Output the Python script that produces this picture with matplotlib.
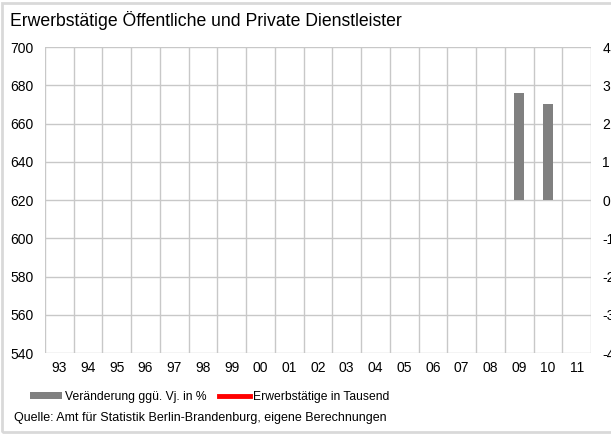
import numpy as np
import matplotlib.pyplot as plt
from matplotlib.patches import Patch, Rectangle
from matplotlib.lines import Line2D

plt.rcParams['font.family'] = ['Liberation Sans', 'DejaVu Sans']
plt.rcParams['axes.unicode_minus'] = False

# data (years 1993-2011)
years = ['93', '94', '95', '96', '97', '98', '99', '00', '01', '02',
         '03', '04', '05', '06', '07', '08', '09', '10', '11']
# change vs previous year in %, only 09 and 10 are shown
change_pct = [np.nan] * 16 + [2.8, 2.5, np.nan]
# employed persons in thousand, no values drawn in the chart
employed = [np.nan] * 19

fig = plt.figure(figsize=(6.11, 4.34), dpi=100)
ax = fig.add_axes([0.0736, 0.1866, 0.8937, 0.7051])
ax2 = ax.twinx()

x = np.arange(len(years))
ax.plot(x, employed, color='#ff0000', linewidth=3)
ax2.bar(x, change_pct, width=0.37, bottom=0, color='#808080')

ax.set_ylim(540, 700)
ax.set_yticks(np.arange(540, 701, 20))
ax2.set_ylim(-4, 4)
ax2.set_yticks(np.arange(-4, 5, 1))
ax.set_xlim(-0.5, len(years) - 0.5)
ax.set_xticks(x)
ax.set_xticklabels(years)

# grid lines between categories
ax.set_xticks(np.arange(-0.5, len(years), 1), minor=True)
ax.grid(True, which='minor', axis='x', color='#c8c8c8', linewidth=1)
ax.grid(True, which='major', axis='y', color='#c8c8c8', linewidth=1)
ax.set_axisbelow(True)
for a in (ax, ax2):
    for s in a.spines.values():
        s.set_visible(False)
ax.tick_params(axis='both', which='both', length=0, labelsize=10)
ax.tick_params(axis='y', pad=8)
ax.tick_params(axis='x', pad=6)
ax2.tick_params(axis='y', length=0, labelsize=10, pad=8)

fig.text(0.016, 0.953, 'Erwerbstätige Öffentliche und Private Dienstleister',
         fontsize=12.7, va='center')

handles = [Patch(facecolor='#808080', edgecolor='none'),
           Line2D([0], [0], color='#ff0000', linewidth=3.5)]
fig.legend(handles, ['Veränderung ggü. Vj. in %', 'Erwerbstätige in Tausend'],
           loc='center left', bbox_to_anchor=(0.042, 0.085), ncol=2,
           frameon=False, fontsize=8.7, handlelength=2.6, handleheight=0.5,
           handletextpad=0.25, columnspacing=1.0, borderaxespad=0)

fig.text(0.023, 0.037, 'Quelle: Amt für Statistik Berlin-Brandenburg, eigene Berechnungen',
         fontsize=9, va='center')

fig.patches.append(Rectangle((0.004, 0.004), 1.2, 0.99, transform=fig.transFigure,
                             fill=False, edgecolor='#d9d9d9', linewidth=2))

fig.savefig('out.png', dpi=100)
